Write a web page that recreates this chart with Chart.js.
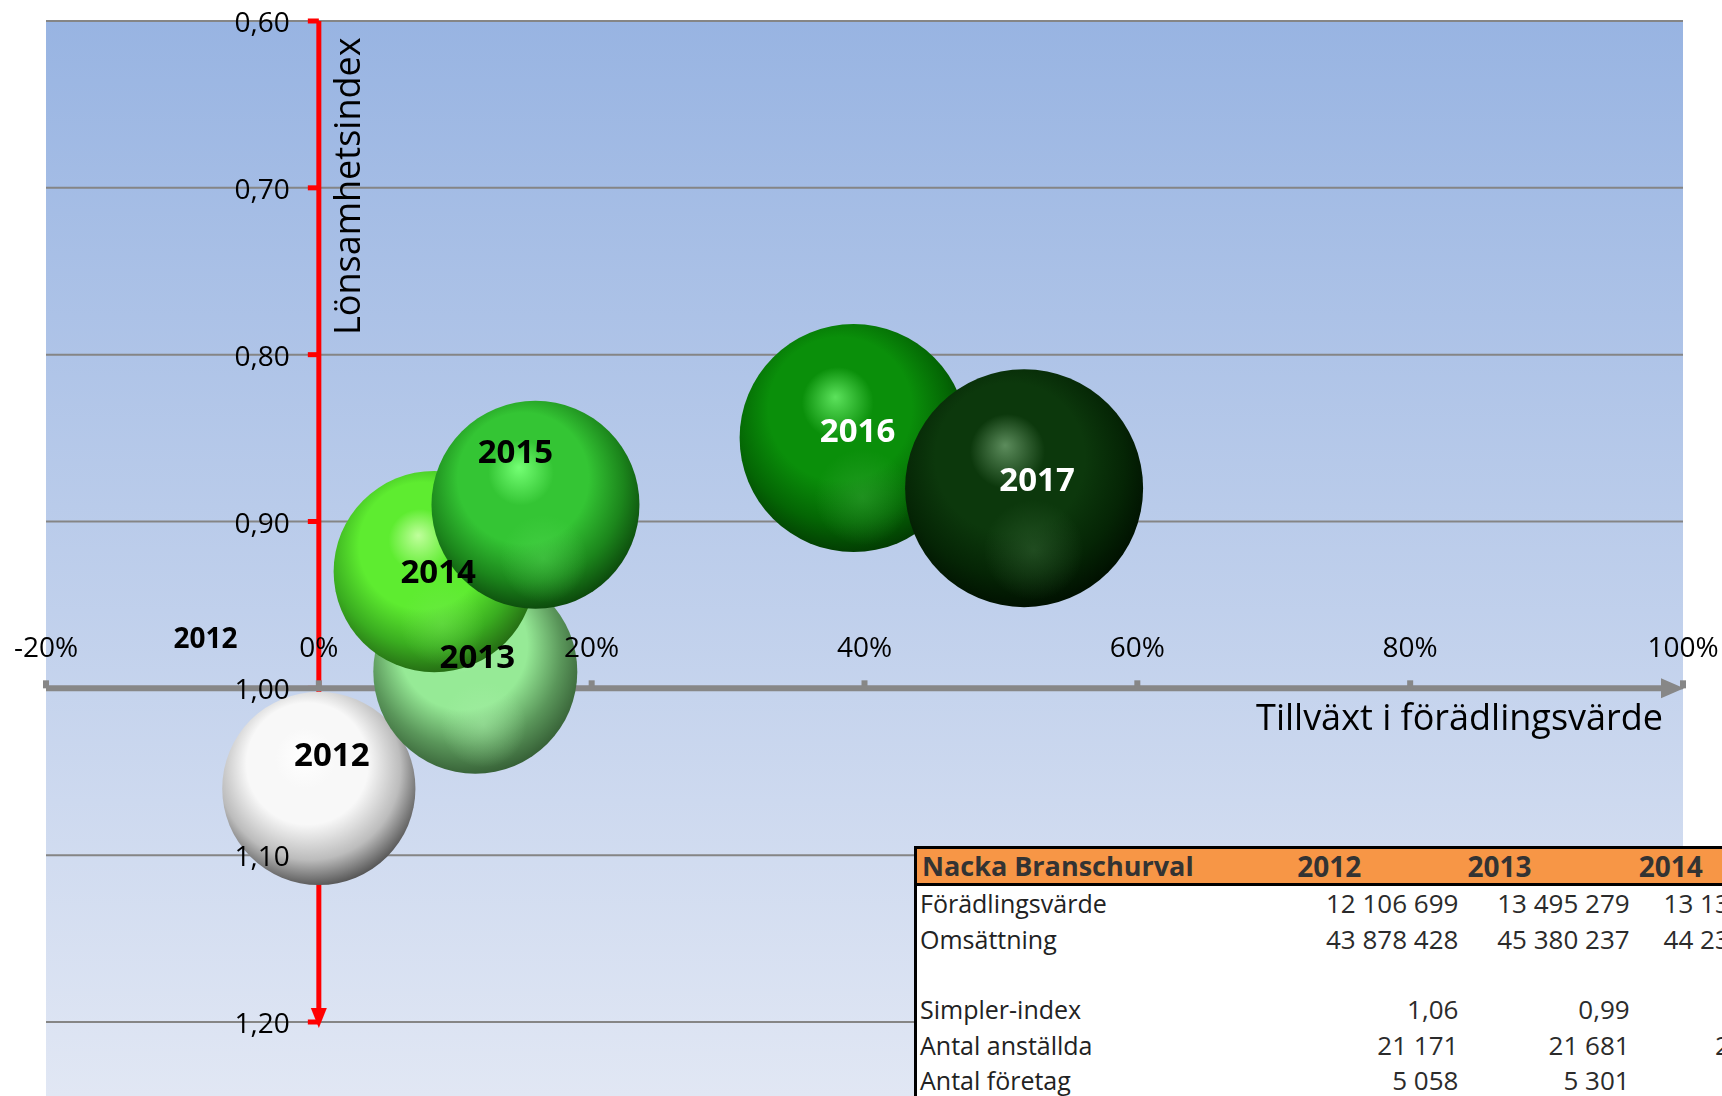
<!DOCTYPE html>
<html>
<head>
<meta charset="utf-8">
<script src="https://cdn.jsdelivr.net/npm/chart.js@4.4.1/dist/chart.umd.min.js"></script>
<style>
  html, body { margin:0; padding:0; width:1722px; height:1096px; overflow:hidden; background:#ffffff; }
  #wrap { position:relative; width:1722px; height:1096px; overflow:hidden; }
  #c { position:absolute; left:0; top:0; }
  #tbl { position:absolute; left:914px; top:846px; border-collapse:collapse; table-layout:fixed;
         width:882px; font-family:'Open Sans', sans-serif; font-size:25px; color:#2b2b2b; background:#ffffff;
         border-left:3px solid #000; border-top:3px solid #000; }
  #tbl td { padding:0; white-space:nowrap; overflow:visible; }
  #tbl tr.head td { background:#F79646; height:34px; line-height:34px; font-weight:bold; color:#333333;
                    border-bottom:3px solid #000; font-size:27px; }
  #tbl tr.head td.lab { padding-left:5px; }
  #tbl tr.head td.yr { padding-left:9px; text-align:left; font-size:28px; }
  #tbl tr.row td { height:35.4px; line-height:33px; }
  #tbl tr.row td.lab { padding-left:3px; color:#222; }
  #tbl tr.row td.val { text-align:right; padding-right:0; font-size:26px; }
</style>
</head>
<body>
<div id="wrap">
  <canvas id="c" width="1722" height="1096"></canvas>
  <table id="tbl"><colgroup><col style="width:372px"><col style="width:170px"><col style="width:171px"><col style="width:166px"></colgroup><tbody id="tb"></tbody></table>
</div>
<script>
// ---------------- DATA ----------------
const years        = ['2012', '2013', '2014', '2015', '2016', '2017'];
const growth       = [0.000, 0.1147, 0.0846, 0.1588, 0.392, 0.517];     // Tillväxt i förädlingsvärde
const profitIndex  = [1.06, 0.99, 0.93, 0.89, 0.85, 0.88];               // Lönsamhetsindex
const valueAdded   = [12106699, 13495279, 13131208, 14030000, 16850000, 18370000]; // bubble size

const xTicks       = [-0.2, 0, 0.2, 0.4, 0.6, 0.8, 1.0];
const xTickLabels  = ['-20%', '0%', '20%', '40%', '60%', '80%', '100%'];
const yTicks       = [0.6, 0.7, 0.8, 0.9, 1.0, 1.1, 1.2];
const yTickLabels  = ['0,60', '0,70', '0,80', '0,90', '1,00', '1,10', '1,20'];

const xTitle = 'Tillväxt i förädlingsvärde';
const yTitle = 'Lönsamhetsindex';
const strayLabel = { text: '2012', x: -0.083, y: 0.97 };

// table
const tableTitle  = 'Nacka Branschurval';
const tableYears  = ['2012', '2013', '2014'];
const tableRowLabels = ['Förädlingsvärde', 'Omsättning', '', 'Simpler-index', 'Antal anställda', 'Antal företag'];
const rowForadling   = ['12 106 699', '13 495 279', '13 131 208'];
const rowOmsattning  = ['43 878 428', '45 380 237', '44 231 517'];
const rowBlank       = ['', '', ''];
const rowSimpler     = ['1,06', '0,99', '0,93'];
const rowAnstallda   = ['21 171', '21 681', '22 104'];
const rowForetag     = ['5 058', '5 301', '5 412'];

// ---------------- STYLE ----------------
const MAX_R = 119;
const labelOffsets = [[13, -32], [2, -13], [4, 2], [-20, -51], [4, -6], [13, -7]];
const labelColors  = ['#000', '#000', '#000', '#000', '#fff', '#fff'];
// highlight, base, shade, edge
const palette = [
  ['#ffffff', '#f8f8f8', '#bcbcbc', '#4a4a4a'],
  ['#b8ffb8', '#96ea96', '#5a965a', '#325a32'],
  ['#c0ff9c', '#5eec30', '#3aad20', '#226412'],
  ['#74ff74', '#34c534', '#1c861c', '#0a420a'],
  ['#5ce25c', '#0a8f0a', '#046604', '#023602'],
  ['#5c8c5c', '#0c380c', '#052505', '#000e00']
];
const glow = [
  [200, 200, 200, 0.0],
  [170, 240, 170, 0.45],
  [120, 230, 90, 0.40],
  [90, 220, 90, 0.40],
  [60, 170, 60, 0.45],
  [60, 110, 60, 0.45]
];

// ---------------- TABLE ----------------
(function buildTable(){
  const tb = document.getElementById('tb');
  const nb = s => s.replace(/ /g, '\u00a0');
  let html = '<tr class="head"><td class="lab">' + tableTitle + '</td>' +
             tableYears.map(y => '<td class="yr">' + y + '</td>').join('') + '</tr>';
  const rows = [rowForadling, rowOmsattning, rowBlank, rowSimpler, rowAnstallda, rowForetag];
  rows.forEach((vals, k) => {
    html += '<tr class="row"><td class="lab">' + (tableRowLabels[k] || '&nbsp;') + '</td>' +
            vals.map(v => '<td class="val">' + (v ? nb(v) : '&nbsp;') + '</td>').join('') + '</tr>';
  });
  tb.innerHTML = html;
})();

// ---------------- CHART ----------------
const maxVA = Math.max(...valueAdded);
const radiusOf = i => MAX_R * Math.sqrt(valueAdded[i] / maxVA);

function sphereFill(c, i) {
  const chart = c.chart;
  const xs = chart.scales && chart.scales.x, ys = chart.scales && chart.scales.y;
  if (!xs || !ys || !chart.chartArea) return palette[i][1];
  const cx = xs.getPixelForValue(growth[i]);
  const cy = ys.getPixelForValue(profitIndex[i]);
  const r = radiusOf(i);
  const g = chart.ctx.createRadialGradient(cx - 0.16 * r, cy - 0.36 * r, 0, cx - 0.08 * r, cy - 0.16 * r, 1.21 * r);
  const p = palette[i];
  g.addColorStop(0, p[0]);
  g.addColorStop(0.26, p[1]);
  g.addColorStop(0.52, p[1]);
  g.addColorStop(0.78, p[2]);
  g.addColorStop(1, p[3]);
  return g;
}

const datasets = years.map((yr, i) => ({
  label: yr,
  data: [{ x: growth[i], y: profitIndex[i], r: radiusOf(i) }],
  order: -i,
  clip: false,
  backgroundColor: c => sphereFill(c, i),
  borderWidth: 0,
  borderColor: 'rgba(0,0,0,0)'
}));

const bgPlugin = {
  id: 'bg',
  beforeDraw(chart) {
    const { ctx, chartArea: a } = chart;
    ctx.save();
    const g = ctx.createLinearGradient(0, a.top, 0, chart.height);
    g.addColorStop(0, '#98B4E2');
    g.addColorStop(1, '#E1E7F4');
    ctx.fillStyle = g;
    ctx.fillRect(a.left, a.top, a.right - a.left, chart.height - a.top);
    ctx.restore();
  }
};

const axesPlugin = {
  id: 'axes',
  beforeDatasetsDraw(chart) {
    const { ctx, chartArea: a } = chart;
    const xs = chart.scales.x, ys = chart.scales.y;
    ctx.save();
    // gridlines
    ctx.strokeStyle = '#858585';
    ctx.lineWidth = 2;
    yTicks.forEach(v => {
      const py = ys.getPixelForValue(v);
      ctx.beginPath(); ctx.moveTo(a.left, py); ctx.lineTo(a.right, py); ctx.stroke();
    });
    // red vertical axis at x = 0
    const x0 = xs.getPixelForValue(0);
    const yTop = ys.getPixelForValue(yTicks[0]);
    const yBot = ys.getPixelForValue(yTicks[yTicks.length - 1]);
    ctx.strokeStyle = '#FF0000'; ctx.fillStyle = '#FF0000';
    ctx.lineWidth = 5;
    ctx.beginPath(); ctx.moveTo(x0, yTop); ctx.lineTo(x0, yBot - 12); ctx.stroke();
    ctx.beginPath(); ctx.moveTo(x0 - 8, yBot - 14); ctx.lineTo(x0 + 8, yBot - 14); ctx.lineTo(x0, yBot + 6); ctx.closePath(); ctx.fill();
    yTicks.forEach(v => {
      const py = ys.getPixelForValue(v);
      ctx.fillRect(x0 - 11, py - 2.5, 11, 5);
    });
    // grey horizontal axis at y = 1.00
    const yA = ys.getPixelForValue(1.0);
    ctx.strokeStyle = '#878787'; ctx.fillStyle = '#878787';
    ctx.lineWidth = 6;
    ctx.beginPath(); ctx.moveTo(a.left, yA); ctx.lineTo(a.right - 18, yA); ctx.stroke();
    ctx.beginPath(); ctx.moveTo(a.right - 22, yA - 10); ctx.lineTo(a.right - 22, yA + 10); ctx.lineTo(a.right + 1, yA); ctx.closePath(); ctx.fill();
    xTicks.forEach(v => {
      const px = xs.getPixelForValue(v);
      ctx.fillRect(px - 3, yA - 8, 6, 8);
    });
    ctx.restore();
  }
};

const glossPlugin = {
  id: 'gloss',
  afterDatasetDraw(chart, args) {
    const i = args.index;
    const el = args.meta.data[0];
    if (!el) return;
    const ctx = chart.ctx;
    const x = el.x, y = el.y, r = el.options.radius;
    const gl = glow[i];
    if (gl[3] <= 0) return;
    ctx.save();
    ctx.beginPath(); ctx.arc(x, y, r, 0, Math.PI * 2); ctx.clip();
    const gx = x + 0.08 * r, gy = y + 0.52 * r;
    const g = ctx.createRadialGradient(gx, gy, 0, gx, gy, 0.42 * r);
    g.addColorStop(0, `rgba(${gl[0]},${gl[1]},${gl[2]},${gl[3]})`);
    g.addColorStop(1, `rgba(${gl[0]},${gl[1]},${gl[2]},0)`);
    ctx.fillStyle = g;
    ctx.fillRect(x - r, y - r, 2 * r, 2 * r);
    ctx.restore();
  }
};

const labelPlugin = {
  id: 'labels',
  afterDatasetsDraw(chart) {
    const { ctx, chartArea: a } = chart;
    const xs = chart.scales.x, ys = chart.scales.y;
    const x0 = xs.getPixelForValue(0);
    const yA = ys.getPixelForValue(1.0);
    ctx.save();
    ctx.fillStyle = '#000';
    // x tick labels (above the axis)
    ctx.font = "28px 'Open Sans'";
    ctx.textAlign = 'center'; ctx.textBaseline = 'alphabetic';
    xTicks.forEach((v, k) => ctx.fillText(xTickLabels[k], xs.getPixelForValue(v), yA - 31));
    // y tick labels (left of the red axis)
    ctx.font = "28px 'Open Sans'";
    ctx.textAlign = 'right';
    yTicks.forEach((v, k) => ctx.fillText(yTickLabels[k], x0 - 29, ys.getPixelForValue(v) + 11));
    // x title
    ctx.font = "36px 'Open Sans'";
    ctx.textAlign = 'right';
    ctx.fillText(xTitle, a.right - 20, yA + 42);
    // y title (rotated)
    ctx.save();
    ctx.translate(x0 + 41, ys.getPixelForValue(yTicks[0]) + 314);
    ctx.rotate(-Math.PI / 2);
    ctx.textAlign = 'left';
    ctx.fillText(yTitle, 0, 0);
    ctx.restore();
    // bubble labels
    ctx.font = "bold 33px 'Open Sans'";
    ctx.textAlign = 'center';
    years.forEach((yr, i) => {
      const cx = xs.getPixelForValue(growth[i]) + labelOffsets[i][0];
      const cy = ys.getPixelForValue(profitIndex[i]) + labelOffsets[i][1];
      ctx.fillStyle = labelColors[i];
      ctx.fillText(yr, cx, cy + 9.5);
    });
    // stray label
    ctx.fillStyle = '#000';
    ctx.font = "bold 28px 'Open Sans'";
    ctx.fillText(strayLabel.text, xs.getPixelForValue(strayLabel.x), ys.getPixelForValue(strayLabel.y) + 10);
    ctx.restore();
  }
};

function draw() {
  new Chart(document.getElementById('c'), {
    type: 'bubble',
    data: { datasets },
    options: {
      responsive: false,
      animation: false,
      events: [],
      layout: { autoPadding: false, padding: { left: 46, right: 39, top: 21, bottom: 74 } },
      plugins: { legend: { display: false }, tooltip: { enabled: false } },
      scales: {
        x: { type: 'linear', min: -0.2, max: 1.0, display: false, ticks: { stepSize: 0.2 } },
        y: { type: 'linear', min: 0.6, max: 1.2, reverse: true, display: false, ticks: { stepSize: 0.1 } }
      }
    },
    plugins: [bgPlugin, axesPlugin, glossPlugin, labelPlugin]
  });
}
if (document.fonts && document.fonts.load) {
  Promise.all([
    document.fonts.load("25px 'Open Sans'"),
    document.fonts.load("bold 32px 'Open Sans'")
  ]).then(draw, draw);
} else { draw(); }
</script>
</body>
</html>
